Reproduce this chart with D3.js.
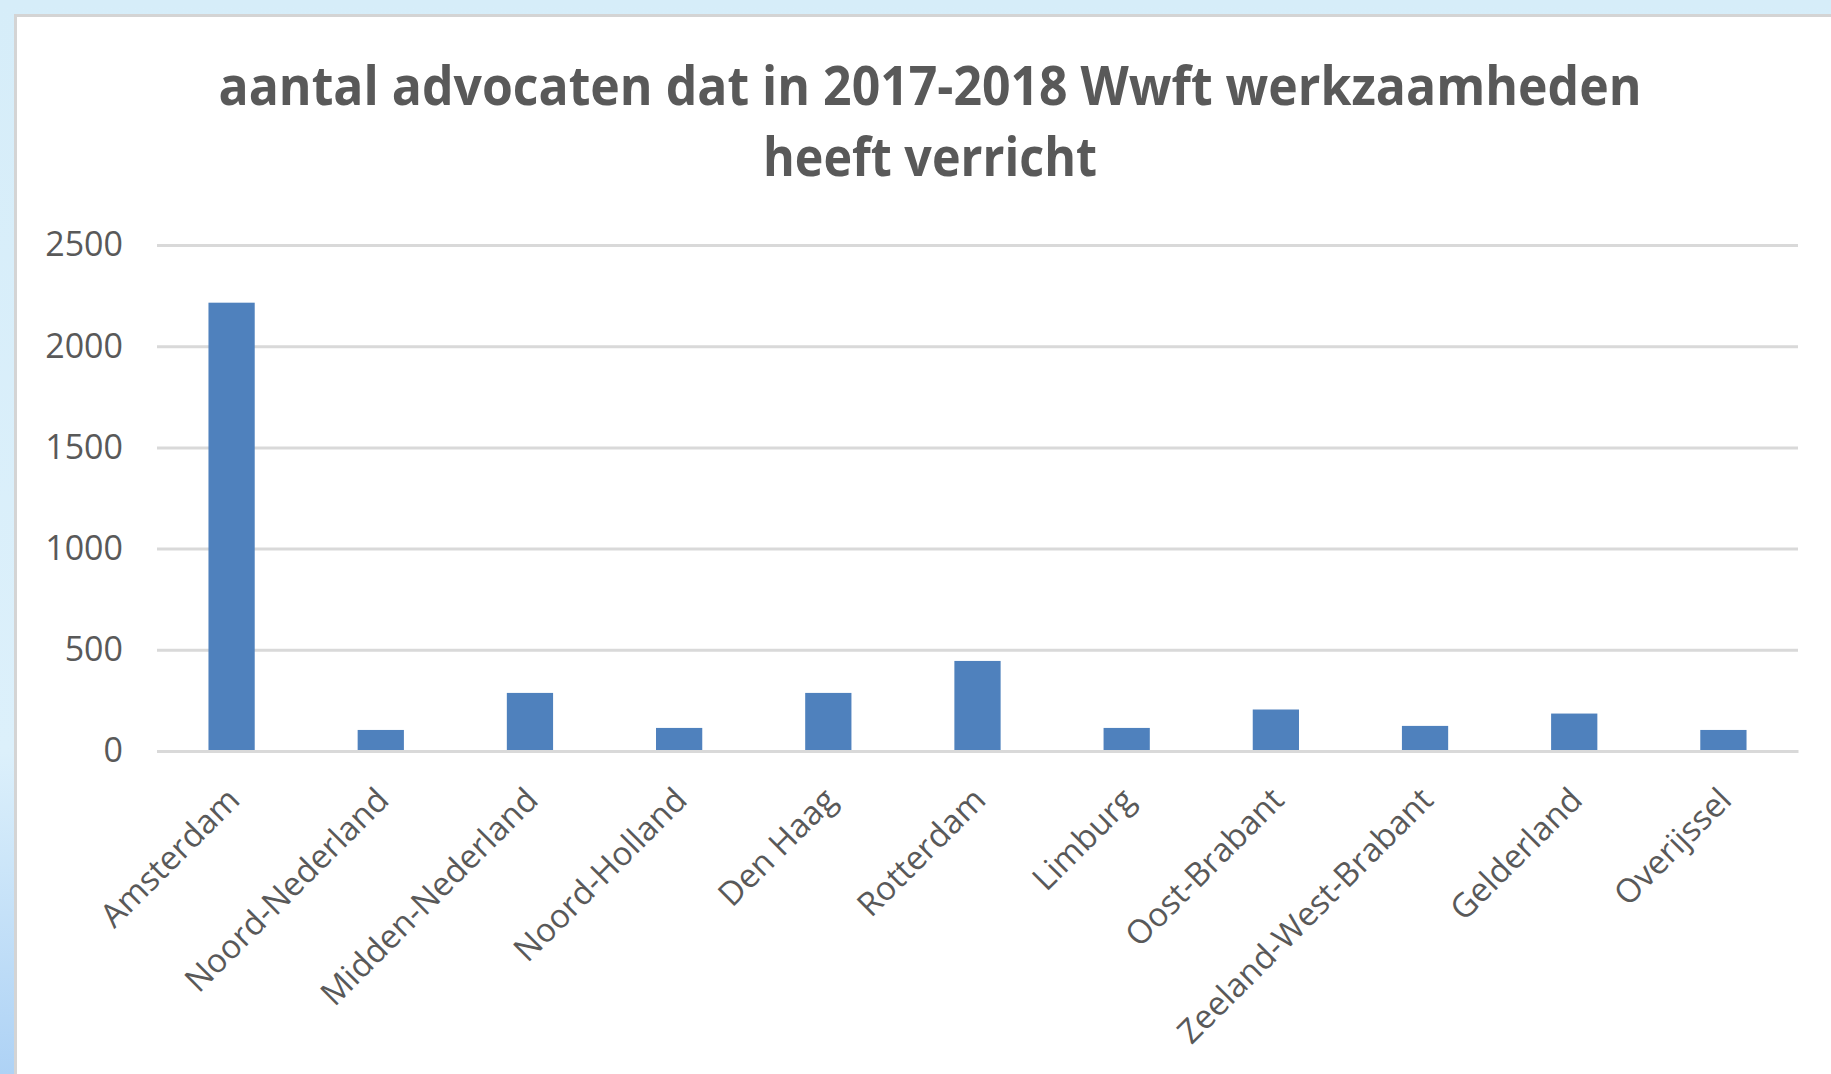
<!DOCTYPE html>
<html>
<head>
<meta charset="utf-8">
<script src="https://cdn.jsdelivr.net/npm/d3@7"></script>
<style>
  body { margin: 0; overflow: hidden; }
  svg { display: block; }
</style>
</head>
<body>
<svg id="chart"></svg>
<script>
// values
const categories = ["Amsterdam", "Noord-Nederland", "Midden-Nederland", "Noord-Holland", "Den Haag",
    "Rotterdam", "Limburg", "Oost-Brabant", "Zeeland-West-Brabant", "Gelderland", "Overijssel"];
const values = [2215, 104, 287, 114, 287, 445, 114, 205, 124, 185, 104];
const yTicks = [0, 500, 1000, 1500, 2000, 2500];
const titleLines = ["aantal advocaten dat in 2017-2018 Wwft werkzaamheden", "heeft verricht"];

const W = 1831, H = 1074;
const plot = {left: 157, right: 1798, top: 245, bottom: 751};
const textColor = "#595959";
const gridColor = "#d9d9d9";

const svg = d3.select("#chart")
    .attr("width", W)
    .attr("height", H);

// page background (light blue) + white chart card
const grad = svg.append("defs").append("linearGradient")
    .attr("id", "bg")
    .attr("x1", 0).attr("y1", 0).attr("x2", 0).attr("y2", 1);
grad.append("stop").attr("offset", "0%").attr("stop-color", "#d6edf9");
grad.append("stop").attr("offset", "70%").attr("stop-color", "#dcf0fb");
grad.append("stop").attr("offset", "100%").attr("stop-color", "#aed2f5");

svg.append("rect")
    .attr("width", W).attr("height", H)
    .attr("fill", "url(#bg)");

svg.append("rect")
    .attr("x", 15.5).attr("y", 15.5)
    .attr("width", W + 50).attr("height", H + 50)
    .attr("fill", "#ffffff")
    .attr("stroke", "#d4d4d4")
    .attr("stroke-width", 3);

// title
const title = svg.append("g");
const titleSize = 54;
const titleWidths = [1423, 334];
titleLines.forEach((line, i) => {
    title.append("text")
        .attr("x", 930)
        .attr("y", 105 + i * 71)
        .attr("text-anchor", "middle")
        .style("font-family", "'Open Sans', sans-serif")
        .style("font-weight", "bold")
        .style("font-size", titleSize + "px")
        .style("fill", textColor)
        .attr("textLength", titleWidths[i])
        .attr("lengthAdjust", "spacingAndGlyphs")
        .text(line);
});

const x = d3.scaleBand()
    .domain(categories)
    .range([plot.left, plot.right])
    .paddingInner(0.69)
    .paddingOuter(0.345);

const y = d3.scaleLinear()
    .domain([0, 2500])
    .range([plot.bottom, plot.top]);

// value axis with gridlines
const yAxis = svg.append("g")
    .attr("transform", "translate(" + plot.left + ",0)")
    .call(d3.axisLeft(y)
        .tickValues(yTicks)
        .tickSize(-(plot.right - plot.left))
        .tickPadding(34)
        .tickFormat(d3.format("d")));
yAxis.select(".domain").remove();
yAxis.selectAll(".tick line")
    .attr("stroke", gridColor)
    .attr("stroke-width", 3);
yAxis.selectAll(".tick text")
    .style("font-family", "'Open Sans', sans-serif")
    .style("font-size", "34px")
    .style("fill", textColor);

// bars
svg.selectAll(".bar")
    .data(values)
    .join("rect")
        .attr("class", "bar")
        .attr("x", (d, i) => x(categories[i]))
        .attr("y", d => y(d))
        .attr("width", x.bandwidth())
        .attr("height", d => y(0) - y(d))
        .attr("fill", "#4f81bd");

// category axis
const xAxis = svg.append("g")
    .attr("transform", "translate(0," + plot.bottom + ")")
    .call(d3.axisBottom(x).tickSize(0));
xAxis.select(".domain")
    .attr("stroke", gridColor)
    .attr("stroke-width", 3);
xAxis.selectAll(".tick text")
    .attr("x", 0)
    .attr("y", 0)
    .attr("dy", 0)
    .attr("text-anchor", "end")
    .attr("transform", "translate(10,51) rotate(-45)")
    .style("font-family", "'Open Sans', sans-serif")
    .style("font-size", "33px")
    .style("fill", textColor);
</script>
</body>
</html>
